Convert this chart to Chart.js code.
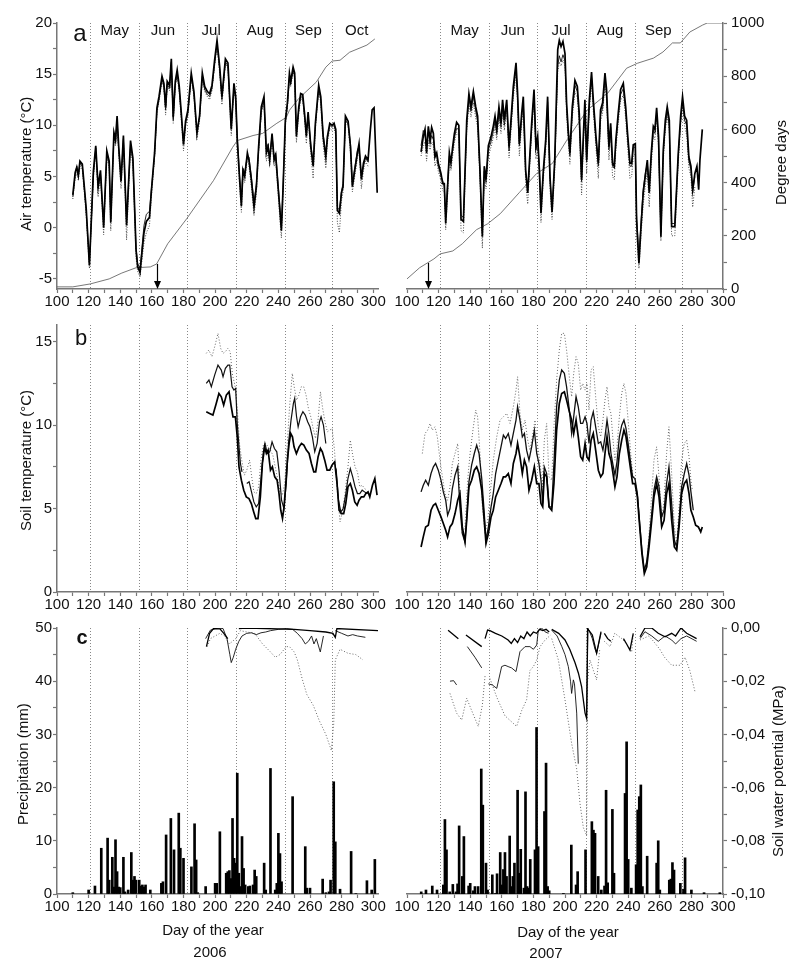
<!DOCTYPE html>
<html>
<head>
<meta charset="utf-8">
<title>Air and soil temperature, precipitation and soil water potential, 2006 and 2007</title>
<script src="https://cdn.jsdelivr.net/npm/chart.js@4.4.1/dist/chart.umd.min.js"></script>
<style>
  body { margin: 0; width: 800px; height: 964px; position: relative; overflow: hidden; background: #fff;
         font-family: "Liberation Sans", Arial, sans-serif; color: #111; }
  canvas { position: absolute; }
  .h { position: absolute; width: 200px; line-height: 18px; font-size: 15px; color: #111;
       text-align: center; white-space: nowrap; }
  .v { position: absolute; width: 18px; height: 300px; line-height: 18px; font-size: 15px; color: #111;
       text-align: center; white-space: nowrap; writing-mode: vertical-rl; transform: rotate(180deg); }
</style>
</head>
<body>
<canvas id="c-a06" width="400" height="318" style="left:0;top:0"></canvas>
<canvas id="c-a07" width="420" height="318" style="left:380px;top:0"></canvas>
<canvas id="c-b06" width="400" height="310" style="left:0;top:310px"></canvas>
<canvas id="c-b07" width="420" height="310" style="left:380px;top:310px"></canvas>
<canvas id="c-c06" width="400" height="320" style="left:0;top:610px"></canvas>
<canvas id="c-c07" width="420" height="320" style="left:380px;top:610px"></canvas>

<div class="v" style="left:17px;top:14px">Air temperature (°C)</div>
<div class="v" style="left:17px;top:310px">Soil temperature (°C)</div>
<div class="v" style="left:14px;top:614px">Precipitation (mm)</div>
<div class="v" style="left:772px;top:12px">Degree days</div>
<div class="v" style="left:769px;top:621px">Soil water potential (MPa)</div>
<div class="h" style="left:113px;top:921px">Day of the year</div>
<div class="h" style="left:110px;top:943px">2006</div>
<div class="h" style="left:468px;top:923px">Day of the year</div>
<div class="h" style="left:446px;top:944px">2007</div>
<div class="h" style="left:-20px;top:20px;font-size:24px;line-height:26px">a</div>
<div class="h" style="left:-19px;top:326px;font-size:22px;line-height:24px">b</div>
<div class="h" style="left:-18px;top:626px;font-size:20px;line-height:22px;font-weight:bold">c</div>

<script>
// ---- axes / ticks
const xTicks = [100,110,120,130,140,150,160,170,180,190,200,210,220,230,240,250,260,270,280,290,300];
const airTicks = [-5,-2.5,0,2.5,5,7.5,10,12.5,15,17.5,20];
const soilTicks = [0,2.5,5,7.5,10,12.5,15];
const precTicks = [0,5,10,15,20,25,30,35,40,45,50];
const ddTicks = [0,100,200,300,400,500,600,700,800,900,1000];
const swpTicks = [-0.1,-0.09,-0.08,-0.07,-0.06,-0.05,-0.04,-0.03,-0.02,-0.01,0];
const monthStart = [121, 152, 182, 213, 244, 274];
const monthMid = [136.5, 167, 197.5, 228.5, 259, 289.5];
const months06 = ['May', 'Jun', 'Jul', 'Aug', 'Sep', 'Oct'];
const months07 = ['May', 'Jun', 'Jul', 'Aug', 'Sep'];
const arrow06 = [163.5, 94];   // day, degree days
const arrow07 = [113, 98];

// ---- a: air temperature 2006
const airDays06 = [110,111.5,112.5,113.5,114.5,116,117.5,118.5,120.5,123,
  124.5,126,127.5,129.5,131.5,133,134,136,137,138,
  139,140.5,142,144,146.5,148,150,151,152.5,153.7,
  155,156.5,158.5,159.6,161.7,163.2,164.5,166.4,167.6,168.7,
  169.7,171.2,172.3,173.5,174.8,176,177.3,178.6,180,181.3,
  182.8,184.9,186.6,188.5,190.2,191.9,193.4,195.1,196.5,198,
  199.7,201.2,202.9,204.3,206.5,208.1,210.2,211.9,213,214,
  215.5,216.6,217.6,218.7,220.4,221.4,222.9,224.6,226.1,227.5,
  229.2,230.9,232.4,233.5,234.5,236,237.3,238.3,239.8,241.1,
  241.9,243,244.4,245.7,247,247.8,249.3,250.3,251.4,252.9,
  254.1,255.4,256.7,257.7,258.8,260.5,262,263.4,265.5,266.8,
  268.3,270,271,272.5,274,275.2,276.3,277.3,278.6,279.9,
  280.9,282.4,284.1,285.6,286.8,288.3,290,291,292.5,293.8,
  295.1,296.7,298.2,299.3,300.5,302.5];
const airThick06 = [3.2,5.4,5.9,5.1,6.5,6.2,3.6,1.8,-3.7,5.5,
  8.0,4.0,5.6,0.0,7.5,6.5,0.5,9.3,8.6,10.9,
  8.0,4.5,9.0,0.2,8.5,6.8,-2.2,-3.8,-4.4,-2.5,
  -0.5,0.6,1.0,3.4,7.3,11.7,12.8,14.8,14.1,11.8,
  14.3,13.9,16.5,10.8,14.3,15.4,13.8,11.2,8.1,10.4,
  11.5,15.1,13.3,9.2,11.0,15.1,13.8,13.3,13.1,13.9,
  16.4,18.3,15.7,12.8,16.5,16.1,9.6,14.1,12.8,8.6,
  4.7,2.1,5.6,5.0,7.3,6.6,4.7,2.0,4.0,7.9,
  11.8,12.8,7.3,7.9,6.6,9.2,6.6,7.1,4.0,1.4,
  -0.3,4.0,10.5,12.2,15.1,14.3,15.7,15.1,8.9,11.8,
  13.1,13.0,10.9,8.9,11.3,7.9,6.0,10.2,13.9,12.8,
  8.9,6.9,8.9,10.2,10.0,10.2,9.6,1.7,1.4,3.4,
  4.0,10.9,10.4,7.9,4.0,5.6,7.3,8.2,4.7,6.3,
  7.0,6.6,9.6,11.5,11.7,3.4];
const airThin06 = [3.0,5.2,6.0,5.0,6.3,6.0,3.4,1.5,-3.5,5.2,
  7.8,3.8,5.3,0.3,7.2,6.2,0.8,9.0,8.3,10.5,
  7.7,4.8,8.7,0.5,8.2,6.5,-2.0,-3.5,-4.0,-2.0,
  0.2,1.3,1.6,3.6,7.0,11.4,12.5,14.5,13.8,11.5,
  14.0,13.6,16.2,10.5,14.0,15.0,13.5,11.0,8.3,10.2,
  11.2,14.8,13.0,9.5,10.8,14.8,13.5,13.0,12.8,13.6,
  16.0,18.0,15.4,12.5,16.2,15.8,9.9,13.8,12.5,8.9,
  5.0,2.6,5.8,5.4,7.0,6.9,5.0,2.5,4.3,7.6,
  11.4,12.4,7.6,8.2,6.9,9.0,6.9,7.3,4.3,1.7,
  0.0,4.3,10.2,11.9,14.8,14.0,15.4,14.8,9.2,11.5,
  12.8,12.7,10.6,9.2,11.0,8.2,6.3,10.0,13.6,12.5,
  9.2,7.2,8.7,10.0,9.8,10.0,9.4,2.0,1.7,3.6,
  4.3,10.6,10.1,8.2,4.3,5.9,7.6,7.9,5.0,6.0,
  6.8,6.4,null,null,null,null];
const airDot06 = [2.8,4.8,5.4,4.6,6.0,5.6,3.0,1.0,-4.0,4.8,
  7.5,3.0,5.0,-0.7,7.0,5.8,-0.3,8.8,8.0,10.4,
  7.2,3.8,8.6,-1.2,8.0,6.0,-3.0,-4.3,-4.8,-3.2,
  -1.5,-0.5,0.2,2.8,6.8,11.2,12.3,14.3,13.6,11.0,
  13.8,13.4,16.0,10.2,13.8,14.8,13.2,10.5,7.5,9.8,
  10.8,14.6,12.8,8.6,10.5,14.6,13.3,12.8,12.5,13.4,
  15.8,17.8,15.0,12.0,16.0,15.6,9.0,13.6,12.2,7.8,
  4.0,1.5,5.0,4.4,6.8,6.0,4.0,1.2,3.4,7.4,
  11.2,12.2,6.5,7.3,6.0,8.6,6.0,6.6,3.4,0.5,
  -1.0,3.4,10.0,11.6,14.6,13.8,15.2,14.6,8.3,11.2,
  12.6,12.5,10.3,8.2,10.8,7.2,4.8,9.6,13.4,12.2,
  8.2,5.8,8.3,9.7,9.5,9.7,9.0,0.5,-0.5,2.6,
  3.5,10.4,9.9,7.3,3.5,5.0,6.8,7.6,3.8,5.6,
  6.5,6.0,null,null,null,null];
const ddDays06 = [100,110,121,133,141,150,159,163,170,182,199,211,214,224,230,239,245,247,253,264,270,274,279,285,296,301];
const dd06 = [8,8,19,38,60,80,83,94,170,264,408,532,558,577,585,623,645,672,717,778,834,857,860,890,917,940];

// ---- a: air temperature 2007
const airDays07 = [108.9,110.3,111.4,112.4,113.5,114.6,115.6,116.7,117.7,118.8,
  119.8,121.5,122.6,123.6,124.5,125.7,126.8,127.8,128.9,130,
  131.4,132.8,134.2,135.7,137.8,139.2,140.5,142,143.5,144.7,
  146.2,147.7,148.9,150,151.5,153.2,154.6,155.7,156.8,158.2,
  159.5,160.5,161.6,163.1,164.6,165.8,167.3,169,170,171.1,
  172.6,173.6,175.1,176.4,177.2,178.9,180.4,181.6,182.7,183.8,
  184.8,186.3,187.8,189,190.5,191.8,193.5,195.4,196.4,197.5,
  198.7,200,201,202,203.1,204.6,206.3,207.8,209,210.5,
  211.6,212.6,213.7,215.4,216.8,217.9,219.6,221.1,222.5,223.8,
  225.3,226.3,227.8,228.9,230.1,231.2,232.2,233.7,235.2,236.9,
  238.4,239.6,241.1,242.2,243.2,244.5,245.3,246.8,248.1,249.5,
  250.8,252.1,253.3,254.6,255.9,256.9,258,259.2,260.7,262.2,
  263.5,264.7,266,267.5,269.5,271.7,273.2,274.4,275.7,277,
  278.4,279.7,280.8,282.2,283.5,284.6,285.4,286.9];
const airThick07 = [7.4,8.9,9.6,7.3,9.9,8.6,9.8,9.2,6.9,7.3,
  6.3,5.3,4.3,4.3,0.4,4.0,7.3,6.3,7.9,9.2,
  10.3,10.0,0.8,0.6,10.5,13.1,11.8,13.3,11.8,10.9,
  5.6,-0.9,6.0,4.7,8.0,8.9,9.9,10.9,9.6,11.8,
  10.2,12.5,10.5,12.5,7.9,10.5,13.8,16.1,13.1,8.2,
  11.2,12.8,5.6,3.4,5.6,10.2,13.5,7.9,8.9,5.6,
  1.4,5.6,8.6,12.8,5.0,1.5,6.6,17.4,18.3,17.7,
  18.2,17.0,12.2,9.6,7.3,11.8,14.4,13.8,11.2,4.7,
  8.9,12.5,6.6,12.5,15.2,12.5,8.9,6.3,11.5,12.2,
  15.1,13.5,7.9,10.2,6.3,6.0,8.6,11.2,13.5,14.1,
  11.8,9.2,6.3,6.3,8.1,8.2,0.8,-3.5,0.1,3.4,
  5.0,6.6,3.4,7.3,9.9,9.6,11.7,8.9,-0.9,7.6,
  10.5,11.8,10.5,0.1,0.1,7.3,10.9,12.8,10.9,10.5,
  6.9,6.0,3.7,5.3,6.0,3.7,6.6,9.6];
const airThin07 = [8.0,9.5,9.0,8.0,9.3,8.2,9.0,8.6,7.5,7.0,
  6.0,5.0,4.6,4.0,1.0,4.5,7.0,6.8,7.5,8.8,
  9.7,9.6,1.2,1.0,10.0,12.6,11.4,12.8,11.4,10.4,
  5.2,-0.5,5.5,4.4,7.6,8.4,9.4,10.4,9.2,11.2,
  9.8,12.0,10.0,12.0,7.5,10.0,13.3,15.6,12.6,8.0,
  10.8,12.3,5.4,3.6,5.3,9.8,13.0,7.6,8.5,5.8,
  2.0,5.3,8.2,12.3,4.8,1.8,6.2,15.8,16.8,16.2,
  16.9,16.3,11.8,9.2,7.0,11.3,13.9,13.3,10.8,4.5,
  8.5,12.0,6.4,12.0,14.7,12.0,8.5,6.0,11.0,11.7,
  14.6,13.0,7.6,9.8,6.0,5.8,8.2,10.8,13.0,13.6,
  11.4,8.8,6.0,6.0,7.8,7.9,1.2,-3.0,0.5,3.8,
  5.3,6.3,3.8,7.0,9.5,9.2,11.2,8.5,-0.5,7.2,
  10.0,11.3,10.0,0.4,0.4,7.0,10.4,12.3,10.5,10.0,
  6.5,5.7,3.4,5.0,null,null,null,null];
const airDot07 = [7.0,8.0,8.4,6.5,8.5,7.6,8.4,8.0,6.0,6.6,
  5.5,4.6,3.6,3.5,-0.2,3.2,6.5,5.6,7.0,8.3,
  9.3,9.0,-0.3,-0.5,9.4,12.0,10.8,12.2,10.7,9.8,
  4.5,-2.0,5.0,3.8,7.0,7.9,8.8,9.8,8.6,10.7,
  9.2,11.4,9.5,11.4,6.8,9.4,12.7,15.0,12.0,7.0,
  10.1,11.7,4.4,2.3,4.6,9.2,12.4,6.7,7.8,4.5,
  0.5,4.7,7.6,11.7,3.8,0.8,5.5,15.2,16.2,15.8,
  16.4,15.8,11.0,8.5,6.2,10.7,13.3,12.7,10.0,3.2,
  7.8,11.4,5.3,11.4,14.1,11.4,7.8,4.8,10.4,11.2,
  14.0,12.4,6.6,9.0,5.0,4.7,7.6,10.2,12.4,13.0,
  10.7,8.0,4.8,5.0,7.0,7.2,-0.5,-4.0,-0.8,2.3,
  4.0,5.5,2.0,6.0,9.0,8.6,10.8,7.8,-1.3,6.5,
  9.6,10.8,9.5,-0.8,-0.8,6.3,10.0,11.8,10.0,9.0,
  5.8,5.0,2.0,4.0,null,null,null,null];
const ddDays07 = [100,108,117,121,129,135,144,151,159,171,182,192,201,214,227,239,246,256,262,268,273,279,287,290,300];
const dd07 = [38,80,113,132,143,170,223,245,283,362,434,472,558,672,736,830,849,868,891,925,925,966,992,1000,1000];

// ---- b: soil temperature 2006
const soilDaysLow06 = [194.4,196.5,198.6,200.7,202.4,203.9,205.4,207.1,208.8,210.2,
  211.3,212.8,214,215.1,216.6,218.1,219.7,221.4,222.9,224.4,
  225.7,227.1,228.6,229.9,231.3,232.4,233.5,235,236.2,237.7,
  239.2,240.4,241.5,242.6,243.6,244.7,245.7,246.8,247.8,248.9,
  249.9,251.4,253.1,254.6,256.1,257.7,259.4,260.9,262.4,263.6,
  265.1,266.6,267.8,269.3,270.8,272.5,273.9,275.6,277.1,278.4,
  279.8,281.3,282.6,284,285.5,286.8,288.3,289.8,291,292.5,
  294,295.3,296.7,297.8,299.5,301,302.4];
const soilLow06 = [10.8,10.7,10.6,11.3,11.9,11.7,11.2,11.8,12.0,11.1,
  10.5,10.5,9.3,7.5,6.7,6.1,5.7,5.6,5.3,4.8,
  4.4,4.4,5.7,7.7,8.7,8.3,8.5,7.3,7.5,6.9,
  6.7,5.9,4.9,4.4,5.1,6.5,7.9,8.9,9.5,9.3,
  8.7,8.3,8.7,8.9,8.8,8.5,8.3,7.7,7.2,7.2,
  8.1,8.6,8.4,7.9,7.3,7.3,7.6,7.8,6.5,4.9,
  4.7,4.7,5.3,6.3,6.5,6.1,5.4,5.2,5.5,5.7,
  5.7,5.9,6.0,5.7,6.4,6.8,5.8];
const soilDaysUp06 = [194.4,196.1,197.6,199.7,201.8,203.9,205,206.5,208.1,209.2,
  210.7,211.9,213,214,215.1,216,217,218.5,220,221.5,
  223,224.5,226,227.5,229,230.5,231.5,233,234.5,236,
  237.5,239,240.5,242,243.5,245,246.5,248,249.5,250.3,
  251.5,252.5,254,255.5,257,258.5,260,261.5,263,264.5,
  266,267,268.5,270,273,276.5,278,279.5,281,282.5,
  284,285.5,287,288.5,290,291.5,293,294.5,296,297];
const soilUp06 = [12.5,12.7,12.3,13.0,13.6,13.3,12.9,13.4,13.6,13.6,
  12.3,12.1,12.2,10.1,8.7,7.7,7.2,null,6.5,6.6,
  6.0,5.4,5.1,5.3,6.8,8.4,8.9,8.3,8.4,9.0,
  8.6,8.4,7.2,5.5,5.0,6.5,9.0,10.3,11.3,11.6,
  10.5,9.9,10.5,10.8,10.6,10.2,9.9,9.3,8.4,8.9,
  10.2,10.5,10.0,8.9,null,7.4,5.5,4.8,5.0,5.8,
  6.8,7.4,6.9,6.3,5.9,5.9,6.1,6.0,5.9,6.0];
const soilDaysDot06 = [194.4,196,198,200,201.8,203.5,205,206.5,208,209.5,
  211,212.5,214,215.5,217,218.5,220,221.8,223,224.5,
  226,227.5,229,230.5,232,233.5,235,236.5,238,239.5,
  241,242.5,244,245.5,247,248.8,250,251.5,253,254.5,
  256,257.5,259,260.5,262,263.5,265,266.6,268,269.5,
  271,272.5,274,275.5,277,279,280.5,282,284,285.5,
  287,288.5,290,291.5,293,294.5,296];
const soilDot06 = [14.3,14.5,14.1,14.8,15.5,14.6,14.3,14.4,14.6,14.4,
  13.0,12.4,11.0,8.8,7.8,7.0,7.3,7.9,7.0,6.0,
  5.9,6.3,7.9,8.8,8.9,8.7,8.5,8.2,7.5,6.8,
  6.0,5.8,6.5,8.7,11.0,13.1,12.3,11.5,11.8,12.3,
  12.3,11.8,11.0,10.5,9.8,9.2,10.2,12.0,11.0,10.2,
  9.6,9.7,9.8,8.5,6.3,4.2,4.8,5.8,7.5,9.1,
  8.2,7.5,7.2,6.3,6.4,6.2,6.1];

// ---- b: soil temperature 2007
const soilDays07 = [108.9,110.3,111.8,113.5,115.2,116.7,118.1,119.8,121.5,123,
  124.5,125.7,127.2,128.7,130.4,132.1,133.5,135,136.7,137.8,
  139.2,140.9,142.6,144.1,145.6,147.3,148.7,150,151.5,153.2,
  154.6,156.1,157.8,159.5,161,162.4,164.1,165.8,167.3,169,
  170,171.5,173,174.3,175.7,177.2,178.9,180.6,182.1,183.5,
  184.8,185.9,186.9,188.4,189.9,191.6,193,194.7,196.4,197.9,
  199.6,201,202.5,204.2,205.5,207,208.4,209.9,211.2,212.7,
  213.9,215.2,216.5,217.9,219.4,221.1,222.6,224,225.3,226.6,
  227.8,229.1,230.4,231.6,232.9,234.4,235.9,237.3,238.6,240.1,
  241.6,242.8,244.3,245.8,247.3,248.7,250.2,251.7,253.2,254.9,
  256.3,258,259.5,261.2,262.7,264.3,265.8,267.5,269.2,270.7,
  272.2,273.8,275.5,277,278.5,279.7,281.2,282.7,284.4,285.9,286.9];
const soilLow07 = [2.7,3.3,3.9,4.0,4.9,5.2,5.3,4.9,4.5,4.1,
  3.7,3.3,3.9,4.1,4.7,5.5,5.9,3.9,3.0,4.3,
  6.3,6.7,7.3,7.5,7.1,6.1,4.5,2.9,3.5,4.5,
  4.9,5.7,6.1,6.5,6.9,6.9,7.1,6.5,7.7,8.3,
  8.9,8.1,7.1,7.9,7.5,6.1,6.7,7.5,6.5,6.5,
  5.3,5.1,7.1,6.9,5.1,4.9,6.5,9.7,11.3,11.9,
  12.0,11.5,10.9,10.3,9.5,10.3,9.3,8.1,7.9,8.9,
  8.1,7.9,9.1,9.5,8.5,7.3,6.9,7.1,8.3,9.3,
  8.3,7.9,7.1,6.3,6.9,8.3,9.1,9.7,9.3,8.3,
  7.3,6.5,6.5,5.7,3.9,2.3,1.1,1.5,2.7,4.3,
  5.7,6.5,5.7,3.9,4.3,5.9,6.5,4.3,2.7,2.5,
  3.9,5.9,6.5,6.7,5.9,4.9,4.5,4.0,3.9,3.6,3.9];
const soilUp07 = [6.0,6.4,6.7,6.4,7.1,7.5,7.7,7.3,6.7,6.0,
  5.5,4.6,5.0,6.2,7.0,7.5,5.1,3.5,3.0,4.5,
  6.6,7.6,8.3,8.8,8.3,6.8,5.0,3.1,3.9,5.1,
  5.9,7.1,7.9,8.7,9.4,9.2,9.5,8.8,9.5,10.3,
  11.1,10.3,9.3,9.5,8.5,7.9,8.7,9.7,8.3,7.7,
  6.7,5.3,7.5,7.1,5.1,5.1,7.7,11.1,12.7,13.3,
  13.1,12.3,11.1,9.5,10.5,11.7,11.1,10.1,10.1,10.5,
  10.1,8.9,10.3,10.8,9.9,8.9,9.0,8.5,9.3,10.3,
  9.5,8.3,7.6,7.0,7.8,9.3,10.0,10.3,9.8,8.8,
  7.7,6.9,6.8,5.9,4.1,2.5,1.3,1.8,3.1,4.7,
  6.1,6.9,6.3,4.5,4.9,6.5,7.5,5.3,3.1,2.7,
  4.3,6.3,7.1,7.7,7.0,6.0,4.9,null,null,null,null];
const soilDaysDot07 = [109.7,111.4,113.1,114.6,116,117.7,119.2,120.9,122.4,124,
  125.7,127.2,128.7,130.4,132.1,133.5,135,136.7,138.4,139.9,
  142,143.5,144.7,146.2,147.7,149.4,151.1,152.7,154.6,156.8,
  158.9,161,163.1,165.2,167.3,169,170,171.5,173,174.7,
  176.4,177.8,179.3,181,182.5,184.2,185.7,186.9,188.4,189.9,
  191.6,193,194.7,196.4,197.9,199.6,201,202.5,204.2,205.5,
  207,208.4,209.9,211.2,212.7,213.9,215.2,216.5,217.9,219.4,
  221.1,222.6,224,225.3,226.6,227.8,229.1,230.4,231.6,232.9,
  234.4,235.9,237.3,238.6,240.1,241.6,242.8,244.3,245.8,247.3,
  248.7,250.2,251.7,253.2,254.9,256.3,258,259.5,261.2,262.7,
  264.3,265.8,267.5,269.2,270.7,272.2,273.8,275.5,277,278.5,
  279.7,280.6];
const soilDot07 = [8.3,9.5,9.7,10.1,9.7,9.9,9.3,7.9,6.9,5.9,
  5.5,6.3,7.7,8.3,8.9,5.9,3.5,3.9,6.7,8.3,
  9.9,10.9,10.5,8.3,5.1,3.5,4.3,5.9,7.9,9.3,
  10.3,10.5,10.7,10.1,11.1,12.1,12.9,10.7,9.7,10.3,
  9.1,8.5,9.3,10.3,8.9,7.7,6.3,9.1,10.1,6.9,
  6.7,9.9,12.7,14.5,15.5,15.5,14.5,13.1,11.7,13.1,
  14.1,13.7,12.1,12.5,12.1,12.5,10.9,13.3,13.5,11.7,
  9.9,9.3,10.3,11.5,12.3,11.1,10.7,9.1,7.9,8.7,
  10.5,11.9,12.5,11.9,10.1,8.3,7.1,6.7,5.9,3.9,
  2.3,1.3,1.5,3.5,5.9,7.9,8.7,6.9,4.3,5.5,
  8.3,9.9,7.1,3.9,2.9,5.1,7.9,8.9,9.1,8.1,
  6.7,6.1];

// ---- c: precipitation (mm)
const precDays06 = [110,120,124,128,132,133,135,136,137,138,139,140,142,143,145,147,148,149,150,152,
  153,154,155,156,159,166,167,169,172,174,177,178,180,185,187,188,189,194,200,201,
  203,207,208,209,210,211,212,213,214,215,216,217,218,219,221,222,224,225,226,231,
  232,235,238,239,240,241,242,249,257,258,260,268,270,272,273,275,276,279,286,289,
  296,299,301];
const prec06 = [0.25,0.75,1.5,8.6,10.5,2.6,6.9,1.3,10.2,4.2,1.3,1.2,6.9,0.4,0.75,7.8,2.6,3.3,2.6,2.6,
  1.5,1.7,1.3,1.7,0.75,2.0,2.3,11.1,14.2,8.3,15.2,8.6,6.7,5.1,13.2,6.4,0.25,1.4,2.0,2.0,
  11.7,3.9,4.2,4.4,2.9,14.2,6.7,5.8,22.7,3.9,1.4,10.8,4.8,1.7,1.4,1.5,1.7,4.5,3.3,5.8,
  0.75,23.6,0.75,2.0,11.4,7.6,2.3,18.3,8.9,1.1,1.1,2.8,0.25,0.4,2.6,21.1,9.8,0.9,8.0,0.1,
  2.5,0.75,6.5];
const precDays07 = [109,112,116,119,123,124,125,127,129,131,132,133,135,136,139,140,142,143,145,147,
  148,150,151,154,156,157,159,160,161,162,163,165,166,167,168,170,171,172,174,175,
  176,177,178,181,182,183,187,188,189,190,199,204,207,208,213,217,218,219,221,223,
  225,226,227,230,231,238,239,240,242,245,246,247,248,249,252,258,259,260,266,267,
  268,269,273,275,276,280,288,298];
const prec07 = [0.4,0.75,1.5,0.75,1.7,14.0,8.3,0.4,1.8,0.4,1.9,12.8,3.3,10.8,1.5,2.0,0.6,1.4,1.4,23.5,
  16.7,5.8,0.75,3.6,0.1,3.8,7.8,1.7,4.6,7.8,3.3,10.9,1.4,3.3,5.8,19.5,3.9,8.4,1.1,19.2,
  1.4,1.1,6.5,8.3,31.3,8.9,15.5,24.6,1.4,0.6,0.1,9.2,1.7,4.2,8.3,13.6,12.0,11.4,3.3,0.75,
  1.5,19.5,2.1,15.9,3.9,18.9,28.6,6.5,1.1,5.5,15.8,18.3,20.5,1.4,7.1,5.8,10.0,0.75,2.6,2.8,
  5.9,4.5,2.0,0.9,6.8,0.75,0.25,0.25];

// ---- c: soil water potential (MPa), null = gap in record
const swpDaysThick06 = [194.5,196.5,199,203,205.5,208,211,215,220,250,260,270,274.5,276,277,303];
const swpThick06 = [-0.007,-0.002,-0.0002,-0.0003,-0.002,-0.004,null,-0.0002,0,-0.0005,-0.001,-0.0015,-0.002,-0.0035,-0.0002,-0.001];
const swpDaysThin06 = [194,197,201,205,207.5,209.3,210.2,211.5,213,215,217,220,223,226,229,232,235,240,245,249,
  252,255,257,259,261,262.5,264,266.5,268.5,272,276,280,284,287,290,295];
const swpThin06 = [-0.004,-0.0008,0,-0.0002,-0.004,-0.010,-0.013,-0.011,-0.008,-0.005,-0.003,-0.002,-0.0018,-0.0025,-0.0018,-0.0015,-0.001,-0.0005,-0.0002,-0.0005,
  -0.002,-0.004,-0.006,-0.005,-0.003,-0.006,-0.004,-0.009,-0.003,null,-0.001,-0.002,-0.003,-0.0025,-0.003,-0.0035];
const swpDaysDot06 = [195,197,200,203,206,209,211,213,216,220,225,230,235,238,241,245,247,250,252,255,
  258,262,266,270,273.5,275,276,279,284,289,293.5];
const swpDot06 = [-0.007,-0.004,-0.003,-0.002,-0.003,-0.006,-0.005,-0.004,-0.001,-0.0015,-0.002,-0.006,-0.009,-0.011,-0.010,-0.007,-0.007,-0.009,-0.012,-0.019,
  -0.025,-0.029,-0.035,-0.040,-0.046,-0.036,-0.012,-0.008,-0.0095,-0.010,-0.012];

const swpDaysThick07 = [126,132.5,135,137.3,147.3,148.5,149.4,151,152.5,156,160,164,166,168,170,172,174,176,178,180,
  182,184,186,188,190,191,191.6,196,200,203,206.3,208.5,210.5,212.7,213.7,214.3,215,217.3,220,222.8,
  224,224.9,227,229,233,237,239,241.1,243.2,245,247.5,250.6,254.9,259,263.3,267.5,270,273.4,277,283.3];
const swpThick07 = [-0.0008,-0.004,null,-0.0026,-0.007,null,-0.004,-0.0008,-0.001,-0.002,-0.003,-0.0045,-0.0058,-0.004,-0.0055,-0.003,-0.004,-0.0015,-0.003,-0.0015,
  -0.002,-0.0005,-0.001,-0.0005,-0.0015,null,-0.0005,-0.002,-0.0045,-0.008,-0.013,-0.017,-0.022,-0.032,-0.034,0,-0.0008,-0.0026,-0.0095,-0.0014,
  null,-0.002,-0.004,-0.005,null,-0.004,-0.006,-0.0083,-0.002,null,-0.0033,0,0,-0.002,-0.0033,-0.002,-0.003,0,-0.002,-0.004];
const swpDaysThin07 = [127.2,129.5,131.4,135,138.2,143,147.3,149,151.5,154,156.8,159.9,162,164,166.2,169,171.5,174.7,177.8,180,
  182.1,183.1,185.2,187.3,189.5,190.5,191.6,195,198,200,202.1,203.5,204.2,205.3,206,207.4,208.4,211,213.7,214.5,
  215.2,217.3,219,220,222.8,235,247.5,250.6,254.9,259,263.3,267.5,270,273.4,277,283.3];
const swpThin07 = [-0.020,-0.0198,-0.0214,null,-0.007,-0.011,-0.015,null,-0.021,-0.0214,-0.0227,-0.0145,-0.014,-0.0145,-0.015,-0.0164,-0.0089,-0.007,-0.007,-0.008,
  -0.0064,-0.0008,0,-0.0014,-0.002,null,-0.0008,-0.003,-0.007,-0.010,-0.0145,-0.020,-0.0246,-0.0195,-0.021,-0.032,-0.051,null,-0.033,-0.001,
  -0.0008,-0.004,-0.008,-0.0095,-0.002,null,-0.004,-0.0014,-0.003,-0.005,-0.003,-0.0045,-0.006,-0.004,-0.003,-0.005];
const swpDaysDot07 = [127.2,131.4,134.6,137.8,140.9,145.1,147.7,149.4,151,152.5,156.8,162,169.4,172.6,175.7,177.8,180,182.1,184.2,187.4,
  191,191.3,191.6,195.8,200,204.2,207.4,209.5,211.6,213.7,214.3,215.8,218,220,222,223.5,224.9,228.5,231.5,236,
  239,242.2,243.2,245,247.5,253,256,260,263,267.5,272.8,276,279,282.3];
const swpDot07 = [-0.0246,-0.032,-0.0346,-0.0264,-0.031,-0.037,-0.029,-0.018,null,-0.019,-0.026,-0.033,-0.037,-0.031,-0.027,-0.016,-0.0145,-0.012,-0.007,-0.0045,
  -0.0026,null,-0.004,-0.012,-0.027,-0.0434,-0.053,-0.066,-0.075,-0.078,-0.02,-0.012,-0.016,-0.0195,-0.008,null,-0.005,-0.007,-0.002,-0.004,
  -0.006,-0.009,-0.002,null,-0.0045,-0.003,-0.005,-0.008,-0.011,-0.014,-0.014,-0.011,-0.016,-0.024];

// ---------------------------------------------------------------
Chart.defaults.font.family = '"Liberation Sans", Arial, sans-serif';
Chart.defaults.font.size = 15;
Chart.defaults.color = '#111';

const AXIS = '#777';
const zip = (xs, ys) => xs.map((x, i) => ({ x: x, y: ys[i] }));

const THICK = { borderColor: '#000', borderWidth: 1.7 };
const THIN = { borderColor: '#111', borderWidth: 0.9 };
const DOT = { borderColor: '#444', borderWidth: 1, borderDash: [1, 1.6] };
const GREYDOT = { borderColor: '#666', borderWidth: 1, borderDash: [1, 2] };
const DDLINE = { borderColor: '#555', borderWidth: 0.8 };

function line(data, style, yAxisID) {
  return Object.assign({ type: 'line', data: data, yAxisID: yAxisID, pointRadius: 0,
    tension: 0, spanGaps: false, fill: false }, style);
}

function bars(data) {
  return { type: 'bar', data: data, yAxisID: 'y', backgroundColor: '#000', borderWidth: 0,
    barThickness: 2, order: 5 };
}

function xScale(max, height) {
  return {
    type: 'linear', min: 100, max: max, offset: false,
    afterBuildTicks: s => { s.ticks = xTicks.map(v => ({ value: v })); },
    afterFit: s => { s.height = height; },
    ticks: { autoSkip: false, maxRotation: 0, padding: 0, callback: v => (v % 20 === 0 ? v : '') },
    grid: { drawOnChartArea: false, offset: false, tickLength: 4, tickWidth: 1.2, color: AXIS },
    border: { color: AXIS, width: 1.5 }
  };
}

function yScale(pos, min, max, ticks, label, width) {
  return {
    type: 'linear', position: pos, min: min, max: max,
    afterBuildTicks: s => { s.ticks = ticks.map(v => ({ value: v })); },
    afterFit: s => { s.width = width; },
    ticks: { padding: pos === 'left' ? 1 : 4, callback: label },
    grid: { drawOnChartArea: false, tickLength: 4, tickWidth: 1.2, color: AXIS },
    border: { color: AXIS, width: 1.5 }
  };
}

const hidden = (min, max) => ({ type: 'linear', display: false, min: min, max: max });
const by5 = v => (v % 5 === 0 ? v : '');
const by10 = v => (v % 10 === 0 ? v : '');
const by200 = v => (v % 200 === 0 ? v : '');
const swpLabel = v => (Math.round(v * 100) % 2 === 0 ? v.toFixed(2).replace('.', ',') : '');

// month dividers, month names and the arrows
const marks = {
  id: 'marks',
  beforeDatasetsDraw(chart) {
    const ctx = chart.ctx, a = chart.chartArea, x = chart.scales.x;
    ctx.save();
    ctx.strokeStyle = '#888';
    ctx.lineWidth = 1;
    ctx.setLineDash([1, 2]);
    monthStart.forEach(d => {
      const px = Math.round(x.getPixelForValue(d)) + 0.5;
      ctx.beginPath(); ctx.moveTo(px, a.top); ctx.lineTo(px, a.bottom); ctx.stroke();
    });
    ctx.restore();
  },
  afterDatasetsDraw(chart, args, o) {
    const ctx = chart.ctx, a = chart.chartArea, x = chart.scales.x;
    ctx.save();
    if (o.names) {
      ctx.fillStyle = '#111';
      ctx.font = '15px "Liberation Sans", Arial, sans-serif';
      ctx.textAlign = 'center';
      ctx.textBaseline = 'middle';
      o.names.forEach((n, i) => ctx.fillText(n, x.getPixelForValue(monthMid[i]), a.top + 8));
    }
    if (o.arrow) {
      const px = Math.round(x.getPixelForValue(o.arrow[0])) + 0.5;
      const top = chart.scales.yDD.getPixelForValue(o.arrow[1]);
      ctx.strokeStyle = '#000';
      ctx.lineWidth = 1.2;
      ctx.beginPath(); ctx.moveTo(px, top); ctx.lineTo(px, a.bottom - 6); ctx.stroke();
      ctx.fillStyle = '#000';
      ctx.beginPath();
      ctx.moveTo(px - 3.5, a.bottom - 8); ctx.lineTo(px + 3.5, a.bottom - 8); ctx.lineTo(px, a.bottom);
      ctx.closePath(); ctx.fill();
    }
    ctx.restore();
  }
};
Chart.register(marks);

function makeChart(id, padding, scales, datasets, markOpts) {
  return new Chart(document.getElementById(id), {
    type: 'line',
    data: { datasets: datasets },
    options: {
      responsive: false, animation: false, events: [],
      layout: { padding: padding },
      plugins: { legend: { display: false }, tooltip: { enabled: false }, marks: markOpts || {} },
      scales: scales
    }
  });
}

// a: air temperature + degree days
makeChart('c-a06', { top: 23, right: 22, left: 0, bottom: 0 },
  { x: xScale(303, 29), y: yScale('left', -6, 20, airTicks, by5, 57), yDD: hidden(0, 1000) },
  [
    line(zip(airDays06, airThick06), THICK, 'y'),
    line(zip(airDays06, airThin06), THIN, 'y'),
    line(zip(airDays06, airDot06), DOT, 'y'),
    line(zip(ddDays06, dd06), DDLINE, 'yDD')
  ],
  { names: months06, arrow: arrow06 });

makeChart('c-a07', { top: 23, right: 0, left: 27, bottom: 0 },
  { x: xScale(300, 29), y: hidden(-6, 20), yDD: yScale('right', 0, 1000, ddTicks, by200, 77) },
  [
    line(zip(airDays07, airThick07), THICK, 'y'),
    line(zip(airDays07, airThin07), THIN, 'y'),
    line(zip(airDays07, airDot07), DOT, 'y'),
    line(zip(ddDays07, dd07), DDLINE, 'yDD')
  ],
  { names: months07, arrow: arrow07 });

// b: soil temperature
makeChart('c-b06', { top: 15, right: 22, left: 0, bottom: 0 },
  { x: xScale(303, 28), y: yScale('left', 0, 16, soilTicks, by5, 57) },
  [
    line(zip(soilDaysLow06, soilLow06), THICK, 'y'),
    line(zip(soilDaysUp06, soilUp06), { borderColor: '#111', borderWidth: 1.2 }, 'y'),
    line(zip(soilDaysDot06, soilDot06), GREYDOT, 'y')
  ]);

makeChart('c-b07', { top: 15, right: 77, left: 27, bottom: 0 },
  { x: xScale(300, 28), y: hidden(0, 16) },
  [
    line(zip(soilDays07, soilLow07), THICK, 'y'),
    line(zip(soilDays07, soilUp07), { borderColor: '#111', borderWidth: 1.3 }, 'y'),
    line(zip(soilDaysDot07, soilDot07), GREYDOT, 'y')
  ]);

// c: precipitation + soil water potential
makeChart('c-c06', { top: 18, right: 22, left: 0, bottom: 0 },
  { x: xScale(303, 36), y: yScale('left', 0, 50, precTicks, by10, 57), y2: hidden(-0.1, 0) },
  [
    line(zip(swpDaysThick06, swpThick06), { borderColor: '#000', borderWidth: 1.3 }, 'y2'),
    line(zip(swpDaysThin06, swpThin06), THIN, 'y2'),
    line(zip(swpDaysDot06, swpDot06), GREYDOT, 'y2'),
    bars(zip(precDays06, prec06))
  ]);

makeChart('c-c07', { top: 18, right: 0, left: 27, bottom: 0 },
  { x: xScale(300, 36), y: hidden(0, 50), y2: yScale('right', -0.1, 0, swpTicks, swpLabel, 77) },
  [
    line(zip(swpDaysThick07, swpThick07), { borderColor: '#000', borderWidth: 1.3 }, 'y2'),
    line(zip(swpDaysThin07, swpThin07), THIN, 'y2'),
    line(zip(swpDaysDot07, swpDot07), GREYDOT, 'y2'),
    bars(zip(precDays07, prec07))
  ]);
</script>
</body>
</html>
